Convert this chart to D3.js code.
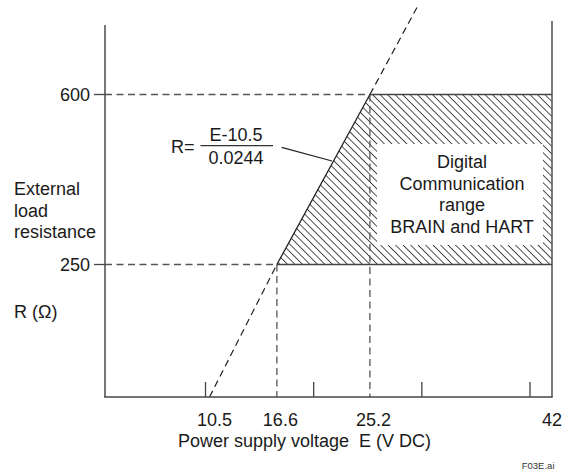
<!DOCTYPE html>
<html><head><meta charset="utf-8">
<script src="https://cdn.jsdelivr.net/npm/d3@7"></script>
<style>body{margin:0;background:#fff}svg{display:block}text{white-space:pre}</style>
</head><body>
<script>
// ---- data ----
const xTickValues = [10, 20, 30, 40];
const xLabelValues = [10.5, 16.6, 25.2, 42];
const xLabelTexts = ["10.5", "16.6", "25.2", "42"];
const yTickValues = [250, 600];
const yLabelTexts = ["250", "600"];
const loadLineLow = [{E: 10.37, R: -23}, {E: 16.6, R: 250}];
const loadLineMid = [{E: 16.6, R: 250}, {E: 25.2, R: 600}];
const loadLineHigh = [{E: 25.2, R: 600}, {E: 29.57, R: 780}];
const rangeRegion = [{E: 16.6, R: 250}, {E: 25.2, R: 600}, {E: 42, R: 600}, {E: 42, R: 250}];
const boxLines = ["Digital", "Communication", "range", "BRAIN and HART"];
const yTitleLines = ["External", "load", "resistance"];
const yUnit = "R (Ω)";
const xTitle = "Power supply voltage  E (V DC)";
const formulaNum = "E-10.5", formulaDen = "0.0244";
const fileTag = "F03E.ai";

// ---- layout ----
const W = 569, H = 472;
const L = 105, R = 552, B = 397, TL = 25, TR = 21;
const font = "'Liberation Sans', Arial, sans-serif";

const svg = d3.select("body").append("svg").attr("width", W).attr("height", H)
  .style("font-family", font);

const x = d3.scaleLinear().domain([10, 40]).range([205.5, 530]);
const y = d3.scaleLinear().domain([250, 600]).range([264.5, 94.5]);

// hatch pattern
const defs = svg.append("defs");
const pat = defs.append("pattern").attr("id", "hatch")
  .attr("patternUnits", "userSpaceOnUse").attr("width", 5.3).attr("height", 10)
  .attr("patternTransform", "rotate(-45)");
pat.append("line").attr("x1", 0).attr("y1", -1).attr("x2", 0).attr("y2", 11)
  .attr("stroke", "#000").attr("stroke-width", 1.35);

// region
svg.append("path")
  .attr("d", d3.line().x(d => x(d.E)).y(d => y(d.R))(rangeRegion) + "Z")
  .attr("fill", "url(#hatch)").attr("stroke", "none");

// region borders (top & bottom)
[[600, 25.2], [250, 16.6]].forEach(([v, e0]) => {
  svg.append("line").attr("x1", x(e0)).attr("x2", R).attr("y1", y(v)).attr("y2", y(v))
    .attr("stroke", "#444").attr("stroke-width", 1.4);
});

// white text box
svg.append("rect").attr("x", 377).attr("y", 144).attr("width", 166).attr("height", 101)
  .attr("fill", "#fff");
svg.append("g").selectAll("text").data(boxLines).join("text")
  .attr("x", 462).attr("y", (d, i) => 168 + i * 21.6)
  .attr("text-anchor", "middle").attr("font-size", 18).attr("fill", "#1a1a1a").text(d => d);

// dashed reference lines
const dash = "7,4.5";
const refLine = (x1, x2, y1, y2) => svg.append("line")
  .attr("x1", x1).attr("x2", x2).attr("y1", y1).attr("y2", y2)
  .attr("stroke", "#555").attr("stroke-width", 1.3).attr("stroke-dasharray", dash);
refLine(L, x(25.2), y(600), y(600));
refLine(L, x(16.6), y(250), y(250));
refLine(x(16.6), x(16.6), y(250), B);
refLine(x(25.2), x(25.2), y(600), B);

// load line
const ll = d3.line().x(d => x(d.E)).y(d => y(d.R));
svg.append("path").attr("d", ll(loadLineLow)).attr("fill", "none")
  .attr("stroke", "#222").attr("stroke-width", 1.2).attr("stroke-dasharray", dash);
svg.append("path").attr("d", ll(loadLineMid)).attr("fill", "none")
  .attr("stroke", "#222").attr("stroke-width", 1.3);
svg.append("path").attr("d", ll(loadLineHigh)).attr("fill", "none")
  .attr("stroke", "#222").attr("stroke-width", 1.2).attr("stroke-dasharray", dash);

// frame
svg.append("line").attr("x1", L).attr("x2", L).attr("y1", TL).attr("y2", B)
  .attr("stroke", "#555").attr("stroke-width", 1.6);
svg.append("line").attr("x1", R).attr("x2", R).attr("y1", TR).attr("y2", B)
  .attr("stroke", "#444").attr("stroke-width", 1.4);
svg.append("line").attr("x1", L - 0.8).attr("x2", R + 0.7).attr("y1", B).attr("y2", B)
  .attr("stroke", "#444").attr("stroke-width", 1.4);

// x ticks (inside)
svg.append("g").selectAll("line").data(xTickValues).join("line")
  .attr("x1", d => x(d)).attr("x2", d => x(d)).attr("y1", B - 15).attr("y2", B)
  .attr("stroke", "#444").attr("stroke-width", 1.3);
// x labels
svg.append("g").selectAll("text").data(xLabelValues).join("text")
  .attr("x", d => Math.min(x(d) + 3.5, R)).attr("y", 425.5)
  .attr("text-anchor", "middle").attr("font-size", 18).attr("fill", "#1a1a1a")
  .text((d, i) => xLabelTexts[i]);
svg.append("text").attr("x", 304.5).attr("y", 447).attr("text-anchor", "middle")
  .attr("font-size", 18).attr("fill", "#1a1a1a").text(xTitle);

// y ticks (outside)
svg.append("g").selectAll("line").data(yTickValues).join("line")
  .attr("x1", L - 11).attr("x2", L).attr("y1", d => y(d)).attr("y2", d => y(d))
  .attr("stroke", "#444").attr("stroke-width", 1.3);
svg.append("g").selectAll("text").data(yTickValues).join("text")
  .attr("x", 90).attr("y", d => y(d) + 6.5).attr("text-anchor", "end")
  .attr("font-size", 18).attr("fill", "#1a1a1a").text((d, i) => yLabelTexts[i]);

// y title
svg.append("g").selectAll("text").data(yTitleLines).join("text")
  .attr("x", 14).attr("y", (d, i) => 195 + i * 21.7)
  .attr("font-size", 18).attr("fill", "#1a1a1a").text(d => d);
svg.append("text").attr("x", 14).attr("y", 318).attr("font-size", 18).attr("fill", "#1a1a1a").text(yUnit);

// formula
svg.append("text").attr("x", 171).attr("y", 153).attr("font-size", 18).attr("fill", "#1a1a1a").text("R=");
svg.append("text").attr("x", 236).attr("y", 140.7).attr("text-anchor", "middle")
  .attr("font-size", 18).attr("fill", "#1a1a1a").text(formulaNum);
svg.append("line").attr("x1", 200.5).attr("x2", 273).attr("y1", 145.7).attr("y2", 145.7)
  .attr("stroke", "#333").attr("stroke-width", 1.2);
svg.append("text").attr("x", 236).attr("y", 164).attr("text-anchor", "middle")
  .attr("font-size", 18).attr("fill", "#1a1a1a").text(formulaDen);
svg.append("line").attr("x1", 281.7).attr("y1", 147.3).attr("x2", 332).attr("y2", 161)
  .attr("stroke", "#222").attr("stroke-width", 1.2);

// file tag
svg.append("text").attr("x", 554.5).attr("y", 469).attr("text-anchor", "end")
  .attr("font-size", 9.5).attr("fill", "#333").text(fileTag);
</script>
</body></html>
